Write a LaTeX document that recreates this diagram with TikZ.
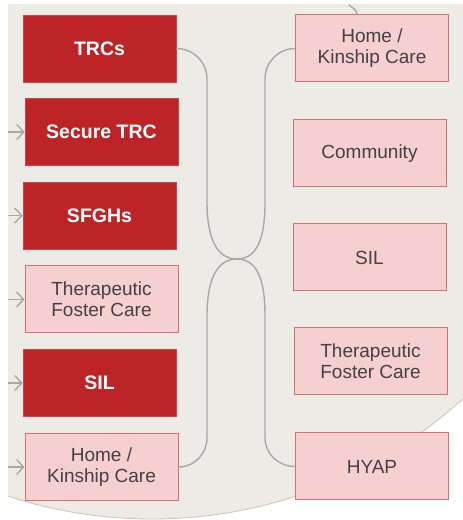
\documentclass[tikz,border=0pt]{standalone}
\usepackage{fontspec}
\setmainfont{Liberation Sans}
\usepackage{xcolor}
\usepackage{tikz}
\usetikzlibrary{calc}
\usetikzlibrary{arrows.meta}
\definecolor{paper}{HTML}{ECEBE6}
\definecolor{rim}{HTML}{CFC7B6}
\definecolor{deepred}{HTML}{BC2427}
\definecolor{blush}{HTML}{F6CFD0}
\definecolor{blushline}{HTML}{DC6E71}
\definecolor{inkgray}{HTML}{444140}
\definecolor{flowgray}{HTML}{A8A8A8}
\tikzset{
  darkbox/.style={rectangle, fill=deepred, draw=deepred!85!white, line width=0.6pt,
    minimum width=153pt, minimum height=67pt, text=white,
    font=\bfseries\fontsize{19.5}{22}\selectfont},
  lightbox/.style={rectangle, fill=blush, draw=blushline, line width=1pt,
    minimum width=153pt, minimum height=67pt, text=inkgray, align=center,
    font=\fontsize{19}{21}\selectfont},
  flow/.style={draw=flowgray, line width=1.4pt},
  feed/.style={draw=flowgray, line width=1.4pt, -{Straight Barb[length=7pt,width=15pt,line width=1.4pt]}}
}

\begin{document}
\begin{tikzpicture}[x=1pt,y=1pt]
\useasboundingbox (0,0) rectangle (463,520);
\begin{scope}
\clip (8,0) rectangle (463,515);
\fill[paper] (152,463) circle (462);
\draw[rim, line width=0.9pt] (152,463) circle (462);
\end{scope}

\coordinate (edge) at (8,0);
\coordinate (mid) at (237,261);
\coordinate (intop) at (349,515);

% left column
\node[darkbox] (l1) at (99.5,471.5) {TRCs};
\node[darkbox] (l2) at (101.5,388) {Secure TRC};
\node[darkbox] (l3) at (99.5,304.5) {SFGHs};
\node[lightbox] (l4) at (101.5,220.5) {Therapeutic\\Foster Care};
\node[darkbox] (l5) at (99.5,137) {SIL};
\node[lightbox] (l6) at (101.5,53) {Home /\\Kinship Care};

% right column
\node[lightbox] (r1) at (372,471.5) {Home /\\Kinship Care};
\node[lightbox] (r2) at (369.5,366.5) {Community};
\node[lightbox] (r3) at (369.5,262.5) {SIL};
\node[lightbox] (r4) at (370.5,158.5) {Therapeutic\\Foster Care};
\node[lightbox] (r5) at (372,53.5) {HYAP};

\foreach \b in {l2,l3,l4,l5,l6}
  \draw[feed] (\b.west -| edge) -- (\b.west);

\draw[flow] (l1.east) to[out=0,in=90] (207,441) -- (207,318) to[out=-90,in=180] (mid);
\draw[flow] (r1.west) to[out=180,in=90] (265,441) -- (265,318) to[out=-90,in=0] (mid);
\draw[flow] (mid) to[out=180,in=90] (207,204) -- (207,82) to[out=-90,in=0] (l6.east);
\draw[flow] (mid) to[out=0,in=90] (265,204) -- (265,82) to[out=-90,in=180] (r5.west);
\draw[flow] (intop) to[out=-40,in=90] ([xshift=-15pt]r1.north);
\end{tikzpicture}
\end{document}
